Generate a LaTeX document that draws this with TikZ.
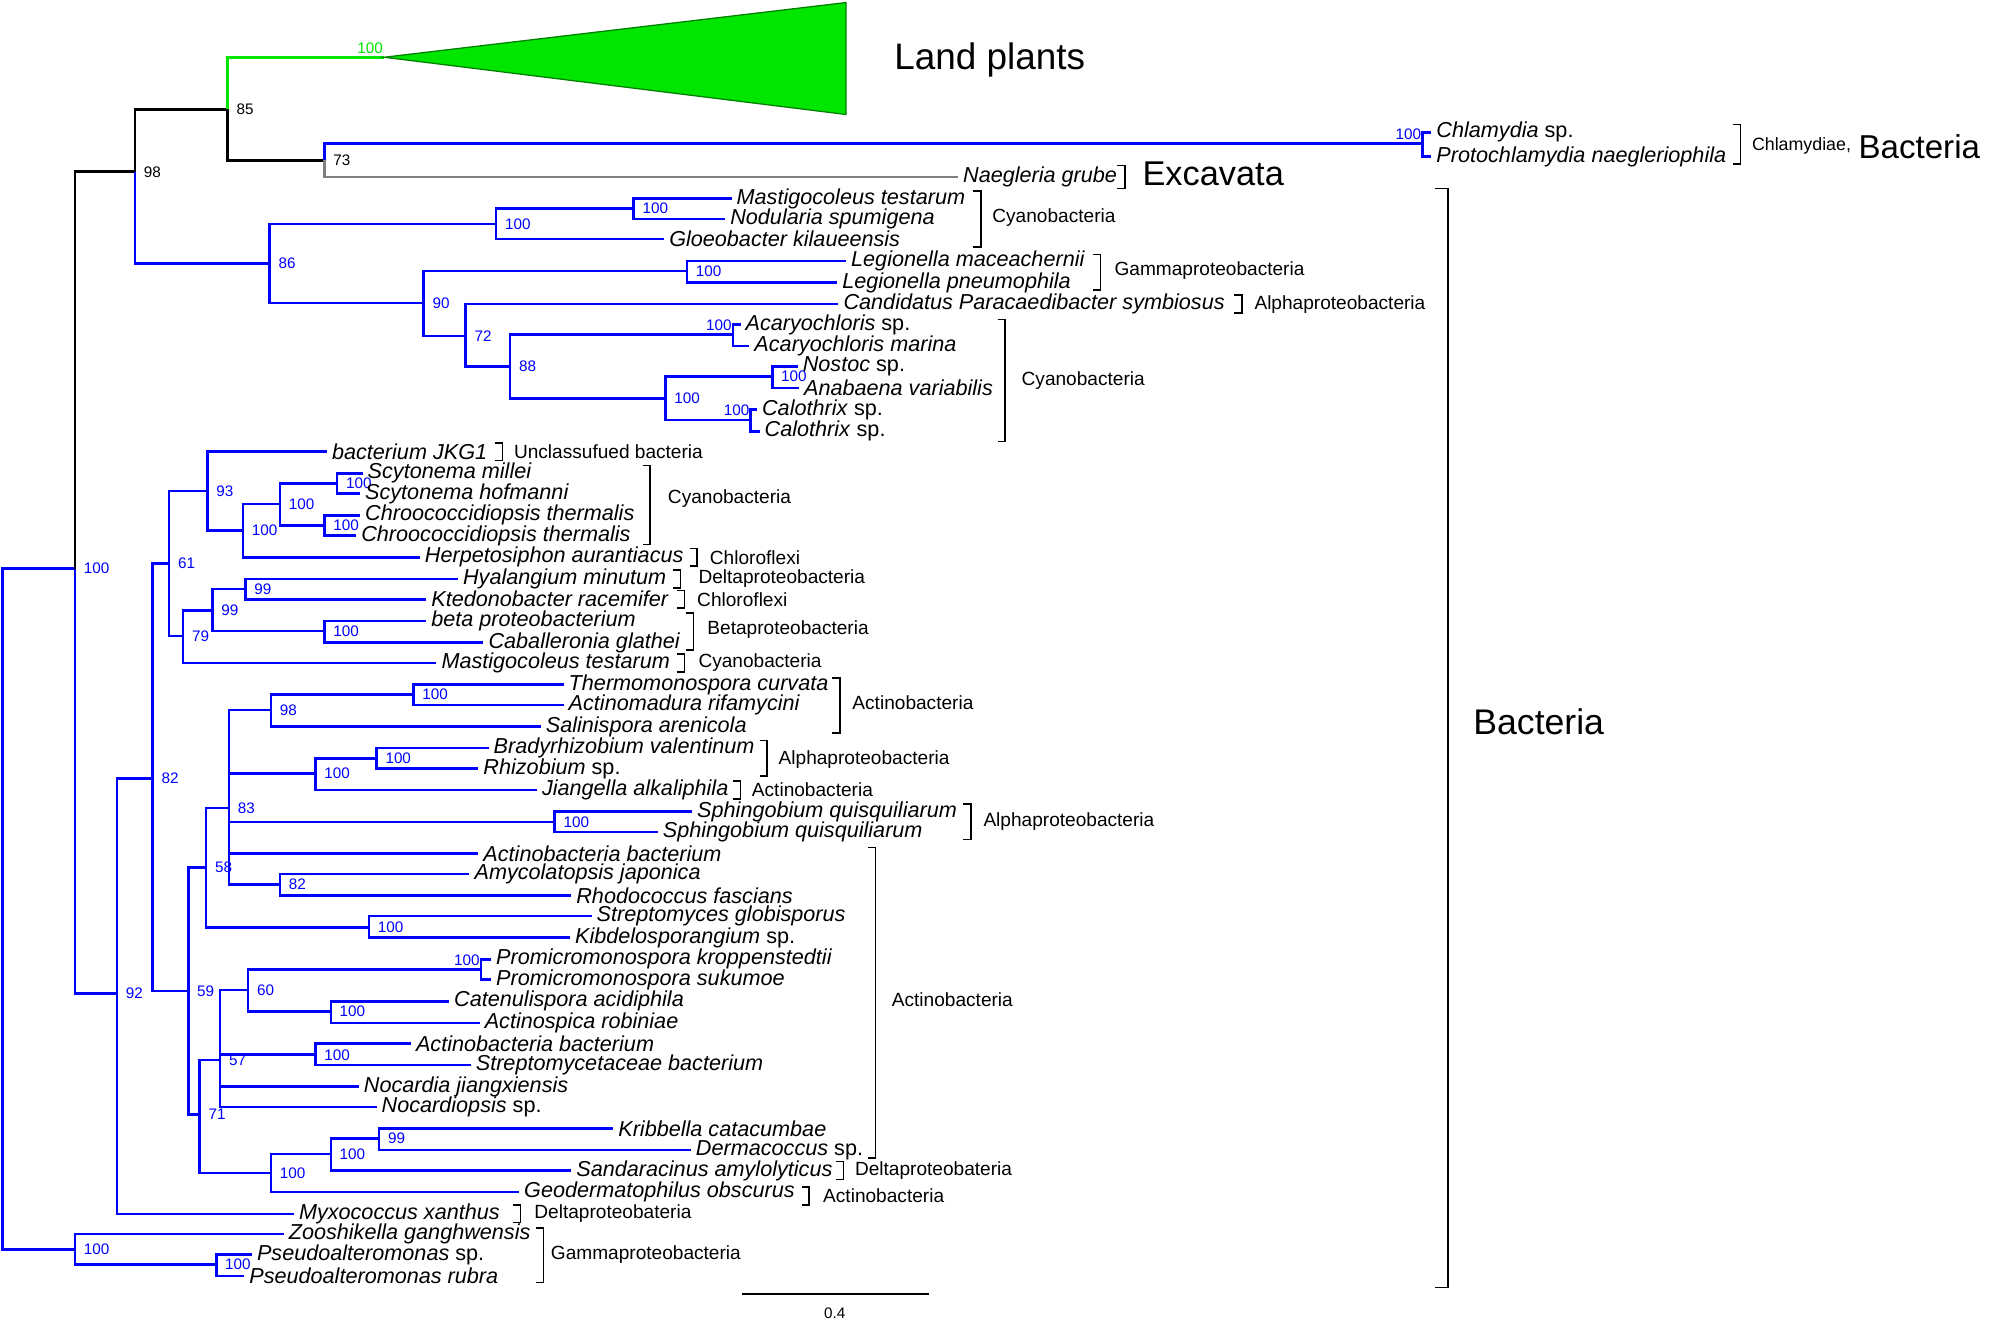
\documentclass[tikz,border=0pt]{standalone}
\usepackage{fontspec}
\setmainfont{Liberation Sans}
\usetikzlibrary{positioning}
\definecolor{treeblue}{RGB}{0,0,255}
\definecolor{plantgreen}{RGB}{0,230,0}
\definecolor{excgray}{RGB}{128,128,128}
% bracket: x, y from, y to
\newcommand{\brk}[3]{\draw[brk] (#1-6,#2) -- (#1,#2) -- (#1,#3) -- (#1-6,#3);}

\begin{document}
\begin{tikzpicture}[x=0.5pt,y=-0.5pt,line width=1pt]
  \tikzstyle{br}=[draw=treeblue]
  \tikzstyle{tip}=[anchor=west,inner xsep=1.5pt,inner ysep=0pt,font=\fontsize{8.5}{9}\selectfont\itshape]
  \tikzstyle{bs}=[anchor=west,inner sep=1pt,xshift=2pt,text=treeblue,font=\fontsize{6}{6}\selectfont]
  \tikzstyle{bsl}=[bs,anchor=south east,xshift=-1pt,yshift=0pt]
  \tikzstyle{grp}=[anchor=west,inner sep=1pt,font=\fontsize{7.5}{8}\selectfont]
  \tikzstyle{big}=[anchor=west,inner sep=1pt,font=\fontsize{14}{14}\selectfont]
  \tikzstyle{brk}=[draw=black,line width=0.6pt]
  \useasboundingbox (0,0) rectangle (1568,1037);

  % inner nodes
  \coordinate (r) at (2,714);
  \coordinate (a100) at (59,447);  \node[bs] (a100-l) at (a100) {100};
  \coordinate (z100) at (59,982);  \node[bs] (z100-l) at (z100) {100};
  \coordinate (p100) at (170,994); \node[bs] (p100-l) at (p100) {100};
  \coordinate (n98) at (106,135);  \node[bs,text=black] (n98-l) at (n98) {98};
  \coordinate (n85) at (179,86);   \node[bs,text=black] (n85-l) at (n85) {85};
  \coordinate (n73) at (255,126);  \node[bs,text=black] (n73-l) at (n73) {73};
  \coordinate (ch) at (1118,113);  \node[bsl] (ch-l) at (ch) {100};
  \coordinate (lp) at (302,45);    \node[bsl,text=plantgreen] (lp-l) at (lp) {100};
  \coordinate (n86) at (212,207);  \node[bs] (n86-l) at (n86) {86};
  \coordinate (c100a) at (390,176);\node[bs] (c100a-l) at (c100a) {100};
  \coordinate (c100b) at (498,164);\node[bs] (c100b-l) at (c100b) {100};
  \coordinate (l100) at (540,213); \node[bs] (l100-l) at (l100) {100};
  \coordinate (n90) at (333,238);  \node[bs] (n90-l) at (n90) {90};
  \coordinate (n72) at (366,264);  \node[bs] (n72-l) at (n72) {72};
  \coordinate (n88) at (401,288);  \node[bs] (n88-l) at (n88) {88};
  \coordinate (ac100) at (576,263);\node[bsl] (ac100-l) at (ac100) {100};
  \coordinate (nc100) at (523,313);\node[bs] (nc100-l) at (nc100) {100};
  \coordinate (no100) at (607,296);\node[bs] (no100-l) at (no100) {100};
  \coordinate (ca100) at (590,330);\node[bsl] (ca100-l) at (ca100) {100};
  \coordinate (n92) at (92,781);   \node[bs] (n92-l) at (n92) {92};
  \coordinate (n82) at (120,612);  \node[bs] (n82-l) at (n82) {82};
  \coordinate (n61) at (133,443);  \node[bs] (n61-l) at (n61) {61};
  \coordinate (n93) at (163,386);  \node[bs] (n93-l) at (n93) {93};
  \coordinate (s100a) at (191,417);\node[bs] (s100a-l) at (s100a) {100};
  \coordinate (s100b) at (220,396);\node[bs] (s100b-l) at (s100b) {100};
  \coordinate (sc100) at (265,380);\node[bs] (sc100-l) at (sc100) {100};
  \coordinate (ch100) at (255,413);\node[bs] (ch100-l) at (ch100) {100};
  \coordinate (n79) at (144,500);  \node[bs] (n79-l) at (n79) {79};
  \coordinate (n99a) at (167,480); \node[bs] (n99a-l) at (n99a) {99};
  \coordinate (n99b) at (193,463); \node[bs] (n99b-l) at (n99b) {99};
  \coordinate (b100) at (255,496); \node[bs] (b100-l) at (b100) {100};
  \coordinate (n59) at (148,779);  \node[bs] (n59-l) at (n59) {59};
  \coordinate (n58) at (162,682);  \node[bs] (n58-l) at (n58) {58};
  \coordinate (n83) at (180,635);  \node[bs] (n83-l) at (n83) {83};
  \coordinate (t98) at (213,558);  \node[bs] (t98-l) at (t98) {98};
  \coordinate (t100) at (325,546); \node[bs] (t100-l) at (t100) {100};
  \coordinate (r100a) at (248,608);\node[bs] (r100a-l) at (r100a) {100};
  \coordinate (r100b) at (296,596);\node[bs] (r100b-l) at (r100b) {100};
  \coordinate (sp100) at (436,646);\node[bs] (sp100-l) at (sp100) {100};
  \coordinate (a82) at (220,695);  \node[bs] (a82-l) at (a82) {82};
  \coordinate (st100) at (290,729);\node[bs] (st100-l) at (st100) {100};
  \coordinate (n71) at (157,876);  \node[bs] (n71-l) at (n71) {71};
  \coordinate (n57) at (173,833);  \node[bs] (n57-l) at (n57) {57};
  \coordinate (n60) at (195,778);  \node[bs] (n60-l) at (n60) {60};
  \coordinate (pr100) at (378,762);\node[bsl] (pr100-l) at (pr100) {100};
  \coordinate (cb100) at (260,795);\node[bs] (cb100-l) at (cb100) {100};
  \coordinate (ab100) at (248,829);\node[bs] (ab100-l) at (ab100) {100};
  \coordinate (d100a) at (213,922);\node[bs] (d100a-l) at (d100a) {100};
  \coordinate (d100b) at (260,907);\node[bs] (d100b-l) at (d100b) {100};
  \coordinate (k99) at (298,895);  \node[bs] (k99-l) at (k99) {99};

  % tips
  \node[tip] (cl1) at (1125,104) {Chlamydia \textup{sp.}};
  \node[tip] (cl2) at (1125,123) {Protochlamydia naegleriophila};
  \node[tip] (ng) at (753,139) {Naegleria grube};
  \node[tip] (m1) at (575,156) {Mastigocoleus testarum};
  \node[tip] (m2) at (570,172) {Nodularia spumigena};
  \node[tip] (m3) at (522,188) {Gloeobacter kilaueensis};
  \node[tip] (lg1) at (665,205) {Legionella maceachernii};
  \node[tip] (lg2) at (658,222) {Legionella pneumophila};
  \node[tip] (cp) at (659,239) {Candidatus Paracaedibacter symbiosus};
  \node[tip] (ak1) at (582,255) {Acaryochloris \textup{sp.}};
  \node[tip] (ak2) at (589,272) {Acaryochloris marina};
  \node[tip] (ns) at (627,288) {Nostoc \textup{sp.}};
  \node[tip] (an) at (628,305) {Anabaena variabilis};
  \node[tip] (ct1) at (595,322) {Calothrix \textup{sp.}};
  \node[tip] (ct2) at (597,339) {Calothrix \textup{sp.}};
  \node[tip] (jkg) at (257,355) {bacterium JKG1};
  \node[tip] (sy1) at (285,372) {Scytonema millei};
  \node[tip] (sy2) at (283,388) {Scytonema hofmanni};
  \node[tip] (cr1) at (283,405) {Chroococcidiopsis thermalis};
  \node[tip] (cr2) at (280,421) {Chroococcidiopsis thermalis};
  \node[tip] (he) at (330,438) {Herpetosiphon aurantiacus};
  \node[tip] (hy) at (360,455) {Hyalangium minutum};
  \node[tip] (kt) at (335,471) {Ktedonobacter racemifer};
  \node[tip] (bp) at (335,488) {beta proteobacterium};
  \node[tip] (cg) at (380,505) {Caballeronia glathei};
  \node[tip] (mx2) at (343,521) {Mastigocoleus testarum};
  \node[tip] (tc) at (443,538) {Thermomonospora curvata};
  \node[tip] (ar) at (443,554) {Actinomadura rifamycini};
  \node[tip] (sa) at (425,571) {Salinispora arenicola};
  \node[tip] (bv) at (384,588) {Bradyrhizobium valentinum};
  \node[tip] (rh) at (376,604) {Rhizobium \textup{sp.}};
  \node[tip] (ja) at (422,621) {Jiangella alkaliphila};
  \node[tip] (sq1) at (544,638) {Sphingobium quisquiliarum};
  \node[tip] (sq2) at (517,654) {Sphingobium quisquiliarum};
  \node[tip] (ab1) at (376,671) {Actinobacteria bacterium};
  \node[tip] (aj) at (369,687) {Amycolatopsis japonica};
  \node[tip] (rf) at (449,704) {Rhodococcus fascians};
  \node[tip] (sg) at (465,720) {Streptomyces globisporus};
  \node[tip] (kb) at (448,737) {Kibdelosporangium \textup{sp.}};
  \node[tip] (pk) at (386,754) {Promicromonospora kroppenstedtii};
  \node[tip] (ps) at (386,770) {Promicromonospora sukumoe};
  \node[tip] (cac) at (353,787) {Catenulispora acidiphila};
  \node[tip] (acr) at (377,804) {Actinospica robiniae};
  \node[tip] (ab2) at (323,820) {Actinobacteria bacterium};
  \node[tip] (stb) at (370,837) {Streptomycetaceae bacterium};
  \node[tip] (nj) at (282,854) {Nocardia jiangxiensis};
  \node[tip] (nsp) at (296,870) {Nocardiopsis \textup{sp.}};
  \node[tip] (kc) at (482,887) {Kribbella catacumbae};
  \node[tip] (dm) at (543,904) {Dermacoccus \textup{sp.}};
  \node[tip] (sam) at (449,920) {Sandaracinus amylolyticus};
  \node[tip] (go) at (408,937) {Geodermatophilus obscurus};
  \node[tip] (mxx) at (231,954) {Myxococcus xanthus};
  \node[tip] (zg) at (223,970) {Zooshikella ganghwensis};
  \node[tip] (pa1) at (198,986) {Pseudoalteromonas \textup{sp.}};
  \node[tip] (pa2) at (192,1003) {Pseudoalteromonas rubra};

  % black and coloured backbone
  \draw[br] (r) |- (a100);
  \draw[br] (r) |- (z100);
  \draw (a100) |- (n98);
  \draw[br] (a100) |- (n92);
  \draw (n98) |- (n85);
  \draw[br] (n98) |- (n86);
  \draw[draw=plantgreen] (n85) |- (lp);
  \draw (n85) |- (n73);
  \draw[br] (n73) |- (ch);
  \draw[draw=excgray] (n73) |- (ng.west);
  \fill[plantgreen,draw=green!50!black,line width=0.5pt] (lp) -- (665,2) -- (665,90) -- cycle;

  % blue edges
  \foreach \p/\c in {ch/cl1.west,ch/cl2.west,n86/c100a,n86/n90,c100a/c100b,c100a/m3.west,
      c100b/m1.west,c100b/m2.west,n90/l100,n90/n72,l100/lg1.west,l100/lg2.west,
      n72/cp.west,n72/n88,n88/ac100,n88/nc100,ac100/ak1.west,ac100/ak2.west,
      nc100/no100,nc100/ca100,no100/ns.west,no100/an.west,ca100/ct1.west,ca100/ct2.west,
      n92/n82,n92/mxx.west,n82/n61,n82/n59,n61/n93,n61/n79,n93/jkg.west,n93/s100a,
      s100a/s100b,s100a/he.west,s100b/sc100,s100b/ch100,sc100/sy1.west,sc100/sy2.west,
      ch100/cr1.west,ch100/cr2.west,n79/n99a,n79/mx2.west,n99a/n99b,n99a/b100,
      n99b/hy.west,n99b/kt.west,b100/bp.west,b100/cg.west,
      n59/n58,n59/n71,n58/n83,n58/st100,n83/t98,n83/r100a,n83/sp100,n83/ab1.west,n83/a82,
      t98/t100,t98/sa.west,t100/tc.west,t100/ar.west,r100a/r100b,r100a/ja.west,
      r100b/bv.west,r100b/rh.west,sp100/sq1.west,sp100/sq2.west,a82/aj.west,a82/rf.west,
      st100/sg.west,st100/kb.west,n71/n57,n71/d100a,n57/n60,n57/ab100,n57/nj.west,n57/nsp.west,
      n60/pr100,n60/cb100,pr100/pk.west,pr100/ps.west,cb100/cac.west,cb100/acr.west,
      ab100/ab2.west,ab100/stb.west,d100a/d100b,d100a/go.west,d100b/k99,d100b/sam.west,
      k99/kc.west,k99/dm.west,z100/zg.west,z100/p100,p100/pa1.west,p100/pa2.west}
    \draw[br] (\p) |- (\c);

  % groups
  \brk{1368}{98}{129}
  \node[grp,font=\fontsize{7}{8}\selectfont] (g-chl) at (1374,115) {Chlamydiae,};
  \node[big,font=\fontsize{13}{14}\selectfont] (g-bac1) [right=0pt of g-chl] {Bacteria};
  \brk{884}{130}{148}
  \node[big,font=\fontsize{13.5}{14}\selectfont] (g-exc) at (895,137) {Excavata};
  \node[big,font=\fontsize{14.5}{15}\selectfont] (g-lp) at (700,47) {Land plants};
  \brk{771}{150}{194}   \node[grp] (g1) at (777,171) {Cyanobacteria};
  \brk{865}{200}{228}   \node[grp] (g2) at (873,213) {Gammaproteobacteria};
  \brk{976}{232}{246}   \node[grp] (g3) at (983,239) {Alphaproteobacteria};
  \brk{790}{251}{347}   \node[grp] (g4) at (800,299) {Cyanobacteria};
  \brk{395}{348}{362}   \node[grp] (g5) at (401,355) {Unclassufued bacteria};
  \brk{511}{366}{428}   \node[grp] (g6) at (522,392) {Cyanobacteria};
  \brk{548}{431}{445}   \node[grp] (g7) at (555,438) {Chloroflexi};
  \brk{535}{448}{462}   \node[grp] (g8) at (546,455) {Deltaproteobacteria};
  \brk{538}{464}{478}   \node[grp] (g9) at (545,471) {Chloroflexi};
  \brk{545}{482}{511}   \node[grp] (g10) at (553,495) {Betaproteobacteria};
  \brk{538}{514}{528}   \node[grp] (g11) at (546,521) {Cyanobacteria};
  \brk{660}{533}{576}   \node[grp] (g12) at (667,552) {Actinobacteria};
  \brk{603}{582}{610}   \node[grp] (g13) at (609,597) {Alphaproteobacteria};
  \brk{582}{614}{628}   \node[grp] (g14) at (588,621) {Actinobacteria};
  \brk{763}{632}{660}   \node[grp] (g15) at (770,646) {Alphaproteobacteria};
  \brk{688}{666}{910}   \node[grp] (g16) at (698,786) {Actinobacteria};
  \brk{663}{913}{927}   \node[grp] (g17) at (669,920) {Deltaproteobateria};
  \brk{636}{933}{947}   \node[grp] (g18) at (644,940) {Actinobacteria};
  \brk{409}{947}{961}   \node[grp] (g19) at (417,954) {Deltaproteobateria};
  \brk{427}{965}{1008}  \node[grp] (g20) at (430,986) {Gammaproteobacteria};
  \draw[brk] (1128,148) -- (1138,148) -- (1138,1012) -- (1128,1012);
  \node[big] (g-bac2) at (1155,567) {Bacteria};

  % scale bar
  \draw[line width=0.7pt] (583,1017) -- (730,1017);
  \node[font=\fontsize{6}{6}\selectfont] (sc) at (656,1032) {0.4};
\end{tikzpicture}
\end{document}
